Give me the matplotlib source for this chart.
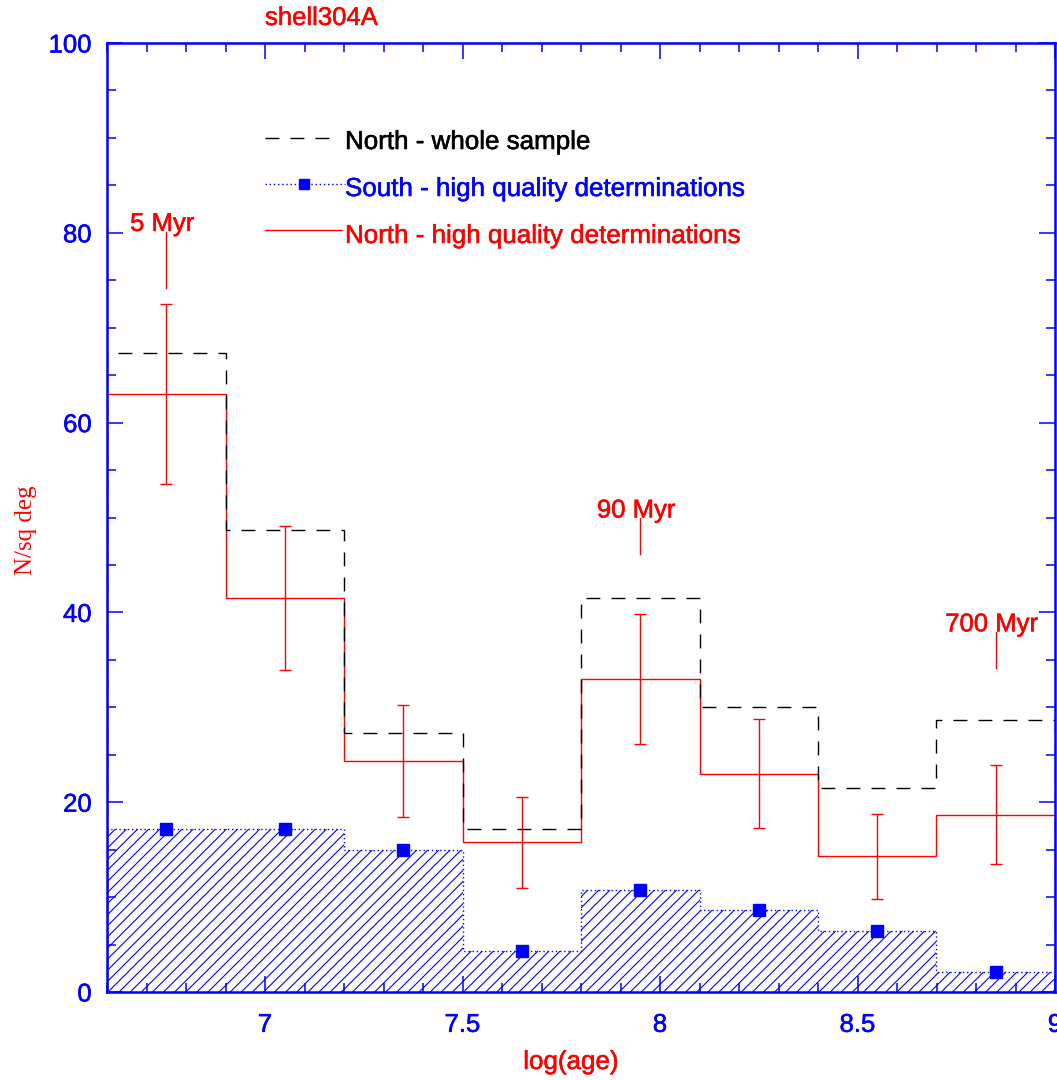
import matplotlib
matplotlib.use('agg')
import matplotlib.pyplot as plt
import matplotlib.patheffects as pe
from matplotlib.lines import Line2D
from matplotlib.ticker import MultipleLocator

# histogram bins in log(age)
edges = [6.6, 6.9, 7.2, 7.5, 7.8, 8.1, 8.4, 8.7, 9.0]
centers = [6.75, 7.05, 7.35, 7.65, 7.95, 8.25, 8.55, 8.85]

# N/sq deg per bin
north_all = [67.3, 48.7, 27.3, 17.2, 41.5, 30.0, 21.5, 28.7]
north_hq = [63.0, 41.5, 24.3, 15.8, 33.0, 23.0, 14.3, 18.7]
north_hq_err = [9.5, 7.6, 5.9, 4.8, 6.85, 5.74, 4.5, 5.2]
south_hq = [17.2, 17.2, 15.0, 4.3, 10.7, 8.6, 6.4, 2.1]

# age markers
age_names = ['5 Myr', '90 Myr', '700 Myr']
age_x = [6.75, 7.95, 8.85]
age_top = [80.1, 49.9, 37.9]
age_bot = [74.2, 46.2, 34.1]

xticks = [7.0, 7.5, 8.0, 8.5, 9.0]
xticklabels = ['7', '7.5', '8', '8.5', '9']
yticks = [0, 20, 40, 60, 80, 100]

plt.rcParams['font.family'] = ['Liberation Sans', 'DejaVu Sans']
plt.rcParams['hatch.linewidth'] = 0.8

W, H = 1057, 1080
fig = plt.figure(figsize=(W / 100, H / 100), dpi=100)

def fx(p):
    return p / W

def fy(p):
    return 1 - p / H

def heavy(c):
    # slightly thicker glyphs
    return [pe.Stroke(linewidth=0.4, foreground=c), pe.Normal()]

ax = fig.add_axes([fx(107), fy(992), fx(1055) - fx(107), fy(43) - fy(992)])

# south: hatched area with dotted outline
ax.stairs(south_hq, edges, fill=True, facecolor='none', edgecolor='blue',
          hatch='///', linewidth=0)
ax.stairs(south_hq, edges, color='blue', linestyle=(0, (1, 2)), lw=1)
ax.plot(centers, south_hq, 's', color='blue', markersize=8, zorder=5)

# north
ax.stairs(north_hq, edges, color='red', lw=1)
ax.errorbar(centers, north_hq, yerr=north_hq_err, fmt='none', ecolor='red',
            elinewidth=1, capsize=4, capthick=1)
ax.stairs(north_all, edges, color='black', linestyle=(0, (10, 8)), lw=1)

for name, x, y0, y1 in zip(age_names, age_x, age_top, age_bot):
    ax.plot([x, x], [y0, y1], color='red', lw=1)
    ax.text(x - 0.01, y0 + 0.1, name, color='red', fontsize=18.5,
            ha='center', va='baseline', path_effects=heavy('red'))

ax.set_xlim(6.6, 9.0)
ax.set_ylim(0, 100)
ax.set_xticks(xticks)
ax.set_xticklabels(xticklabels)
ax.set_yticks(yticks)
ax.xaxis.set_minor_locator(MultipleLocator(0.1))
ax.yaxis.set_minor_locator(MultipleLocator(5))

for sp in ax.spines.values():
    sp.set_color('blue')
    sp.set_linewidth(1.8)
ax.tick_params(which='both', direction='in', top=True, right=True,
               color='blue', width=1.1)
ax.tick_params(which='major', length=11.5)
ax.tick_params(which='minor', length=6.5)
ax.tick_params(axis='x', which='major', pad=15, labelsize=18.5,
               labelcolor='blue')
ax.tick_params(axis='y', which='major', pad=11, labelsize=18.5,
               labelcolor='blue')
for lab in ax.get_xticklabels() + ax.get_yticklabels():
    lab.set_path_effects(heavy('blue'))

# legend drawn by hand
fig.add_artist(Line2D([fx(265), fx(334)], [fy(138), fy(138)], color='black',
                      lw=1, linestyle=(0, (10, 8))))
fig.add_artist(Line2D([fx(265), fx(345)], [fy(184), fy(184)], color='blue',
                      lw=1, linestyle=(0, (1, 2))))
fig.add_artist(Line2D([fx(304)], [fy(184)], color='blue', marker='s',
                      markersize=7, linestyle='none'))
fig.add_artist(Line2D([fx(265), fx(342)], [fy(230), fy(230)], color='red',
                      lw=1))
fig.text(fx(345), fy(149), 'North - whole sample', color='black',
         fontsize=18.7, va='baseline', path_effects=heavy('black'))
fig.text(fx(345), fy(196), 'South - high quality determinations',
         color='blue', fontsize=18.7, va='baseline', path_effects=heavy('blue'))
fig.text(fx(345), fy(243), 'North - high quality determinations',
         color='red', fontsize=18.7, va='baseline', path_effects=heavy('red'))

fig.text(fx(265), fy(25), 'shell304A', color='red', fontsize=18.5,
         va='baseline', path_effects=heavy('red'))
fig.text(fx(571), fy(1062), 'log(age)', color='red', fontsize=18.7,
         ha='center', va='center', path_effects=heavy('red'))
fig.text(fx(26), fy(530), 'N/sq deg', color='red', fontsize=18,
         family='Liberation Serif', rotation=90, ha='center', va='center')

fig.savefig('out.png', dpi=100)
